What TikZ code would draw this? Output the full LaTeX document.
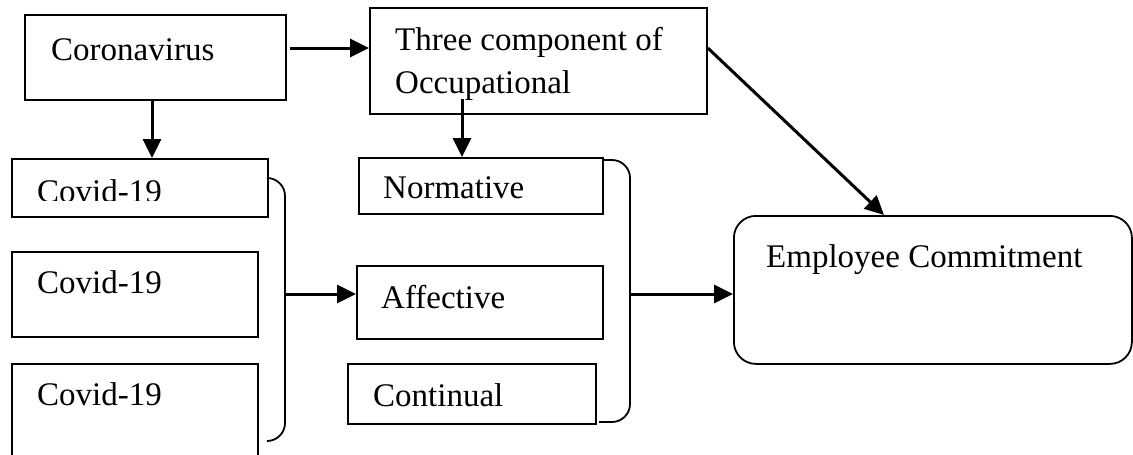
\documentclass[tikz,border=0pt]{standalone}
\usepackage{fontspec}
\setmainfont{Liberation Serif}
\usetikzlibrary{arrows.meta}
\begin{document}
\begin{tikzpicture}[x=1pt,y=-1pt,
  box/.style={draw, line width=1.8pt, rectangle, inner sep=0pt, anchor=north west},
  lbl/.style={anchor=base west, inner sep=0pt, font=\fontsize{33}{40}\selectfont},
  arr/.style={line width=3pt, -{Triangle[length=19pt,width=18pt]}},
  brk/.style={line width=1.8pt, rounded corners=18pt}]
\useasboundingbox (0,0) rectangle (1133,455);
\clip (0,0) rectangle (1133,455);
% boxes
\node[box, minimum width=261pt, minimum height=85pt] (coro) at (24,14) {};
\node[box, minimum width=337pt, minimum height=106pt] (three) at (369,7) {};
\node[box, minimum width=256pt, minimum height=58pt] (cv1) at (11,158) {};
\node[box, minimum width=246pt, minimum height=85pt] (cv2) at (11,251) {};
\node[box, minimum width=246pt, minimum height=120pt] (cv3) at (11,363) {};
\node[box, minimum width=244pt, minimum height=56pt] (norm) at (358,157) {};
\node[box, minimum width=246pt, minimum height=73pt] (aff) at (356,265) {};
\node[box, minimum width=248pt, minimum height=60pt] (cont) at (347,363) {};
\node[box, rounded corners=22pt, minimum width=398pt, minimum height=148pt] (emp) at (733,215) {};
% labels
\node[lbl] (tcoro) at (51,60) {Coronavirus};
\node[lbl] (tthree1) at (395,50) {Three component of};
\node[lbl] (tthree2) at (395,93) {Occupational};
\begin{scope}
  \clip (0,150) rectangle (300,200);
  \node[lbl] (tcv1) at (37,202) {Covid-19};
\end{scope}
\node[lbl] (tcv2) at (37,293) {Covid-19};
\node[lbl] (tcv3) at (37,405) {Covid-19};
\node[lbl] (tnorm) at (383,198) {Normative};
\node[lbl] (taff) at (381,308) {Affective};
\node[lbl] (tcont) at (373,406) {Continual};
\node[lbl] (temp) at (766,267) {Employee Commitment};
% brackets
\draw[brk] (cv1.north east |- 0,178) -- (285,178) -- (285,441) -- (268,441);
\draw[brk] (norm.north east |- 0,160) -- (630,160) -- (630,422) -- (599,422);
\coordinate (lb) at (285,294);
\coordinate (rb) at (630,294);
% arrows
\draw[arr] (coro.east |- 0,48) ++(3,0) -- (three.west |- 0,48);
\draw[arr] (coro.south -| 152,0) -- (cv1.north -| 152,0);
\draw[arr] (three.south -| 462,0) ++(0,-16) -- (norm.north -| 462,0);
\draw[arr] (three.east |- 0,48) -- (emp.north -| 884,0);
\draw[arr] (lb) -- (aff.west |- lb);
\draw[arr] (rb) -- (emp.west |- rb);
\end{tikzpicture}
\end{document}
